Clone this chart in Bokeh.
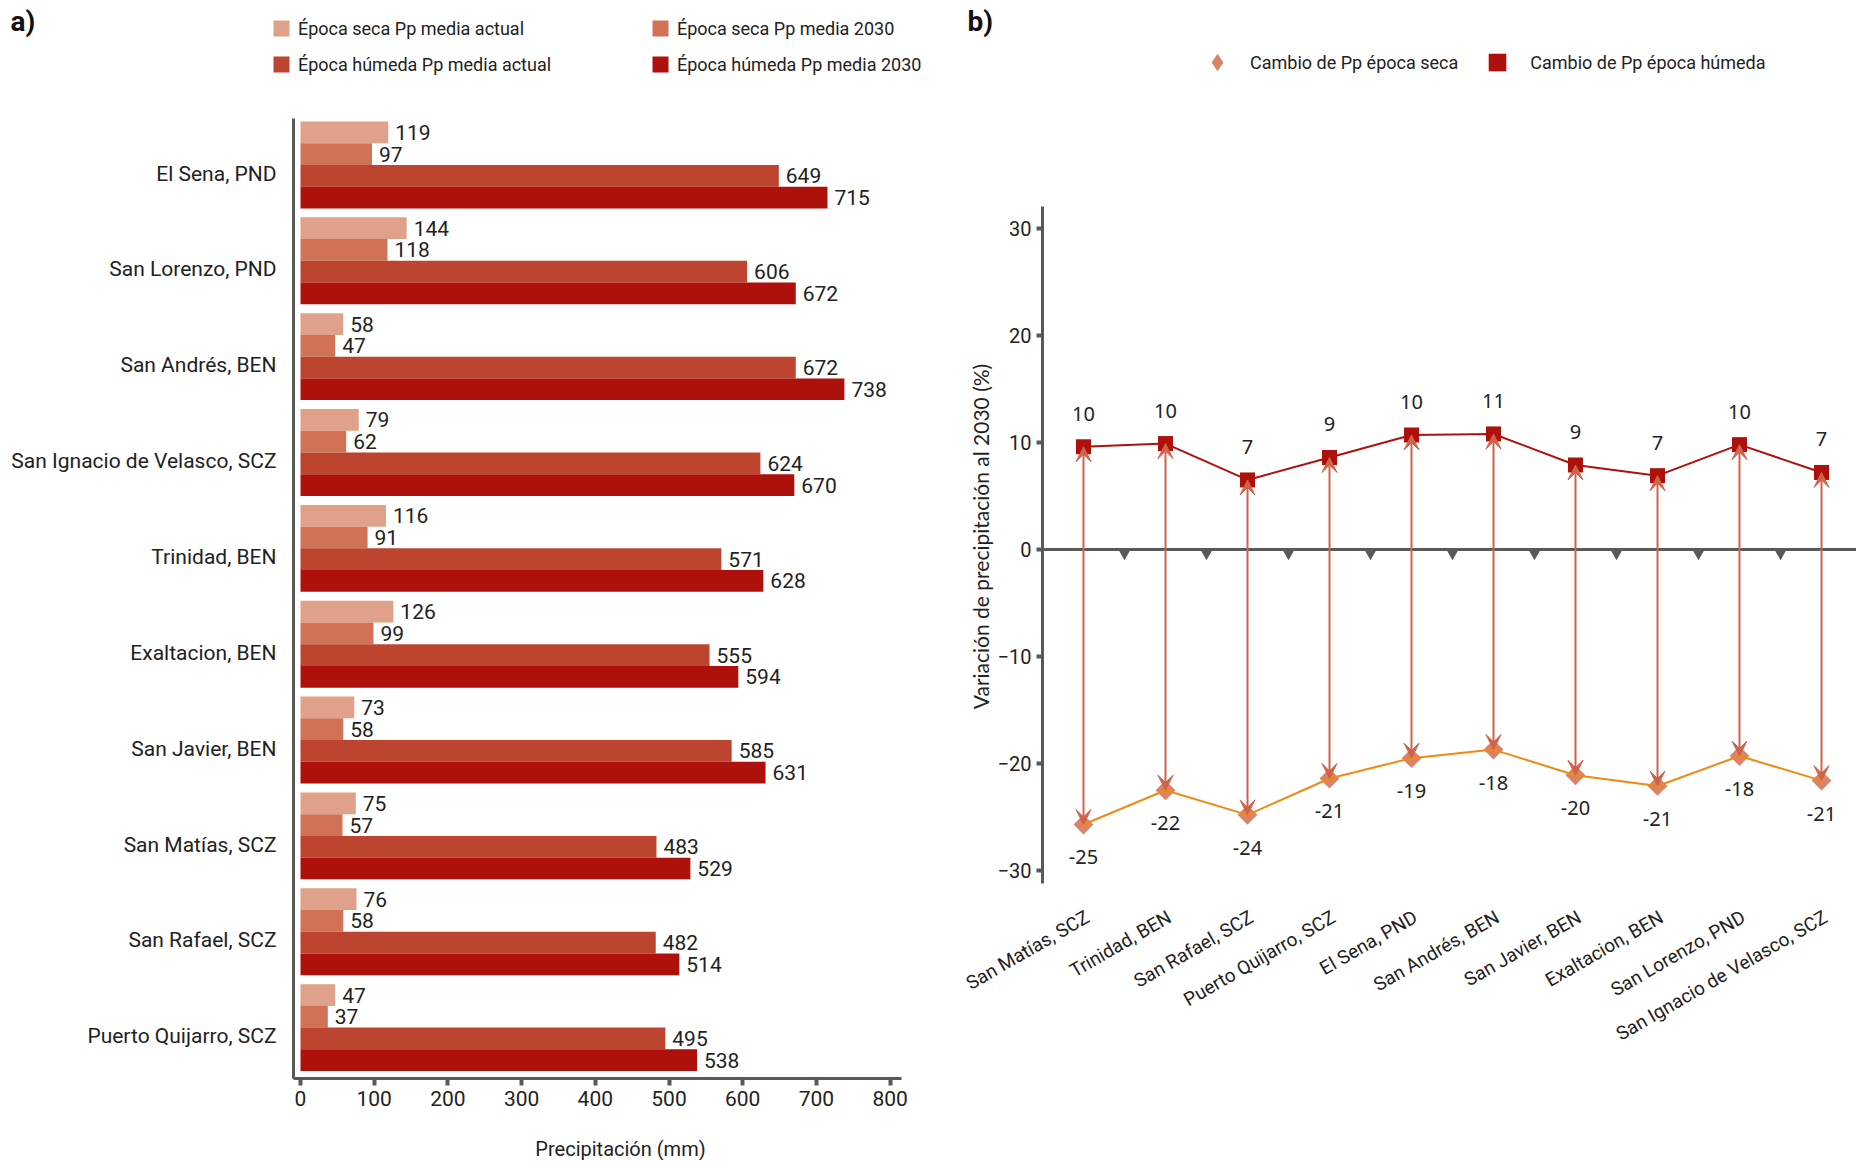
import numpy as np
from bokeh.plotting import figure
from bokeh.models import (ColumnDataSource, Range1d, FixedTicker, Legend, LegendItem,
                          Label, LabelSet, Arrow, VeeHead, LinearAxis)
from bokeh.layouts import row
from bokeh.embed import file_html
from bokeh.resources import INLINE
from bokeh.core.properties import value

# ---------------- Panel a) data ----------------
stations_a = ["El Sena, PND", "San Lorenzo, PND", "San Andrés, BEN",
              "San Ignacio de Velasco, SCZ", "Trinidad, BEN", "Exaltacion, BEN",
              "San Javier, BEN", "San Matías, SCZ", "San Rafael, SCZ",
              "Puerto Quijarro, SCZ"]
seca_actual = [119, 144, 58, 79, 116, 126, 73, 75, 76, 47]
seca_2030 = [97, 118, 47, 62, 91, 99, 58, 57, 58, 37]
humeda_actual = [649, 606, 672, 624, 571, 555, 585, 483, 482, 495]
humeda_2030 = [715, 672, 738, 670, 628, 594, 631, 529, 514, 538]
series_names = ["Época seca Pp media actual", "Época seca Pp media 2030",
                "Época húmeda Pp media actual", "Época húmeda Pp media 2030"]
series_colors = ["#E0A18A", "#D17256", "#BD442E", "#AE110B"]
x_ticks_a = [0, 100, 200, 300, 400, 500, 600, 700, 800]
x_title_a = "Precipitación (mm)"

# ---------------- Panel b) data ----------------
stations_b = ["San Matías, SCZ", "Trinidad, BEN", "San Rafael, SCZ",
              "Puerto Quijarro, SCZ", "El Sena, PND", "San Andrés, BEN",
              "San Javier, BEN", "Exaltacion, BEN", "San Lorenzo, PND",
              "San Ignacio de Velasco, SCZ"]
cambio_humeda = [9.6, 9.9, 6.5, 8.6, 10.7, 10.8, 7.9, 6.9, 9.8, 7.2]
cambio_seca = [-25.7, -22.5, -24.8, -21.4, -19.5, -18.7, -21.1, -22.1, -19.3, -21.6]
etiquetas_humeda = ["10", "10", "7", "9", "10", "11", "9", "7", "10", "7"]
etiquetas_seca = ["-25", "-22", "-24", "-21", "-19", "-18", "-20", "-21", "-18", "-21"]
y_ticks_b = [-30, -20, -10, 0, 10, 20, 30]
legend_b = ["Cambio de Pp época seca", "Cambio de Pp época húmeda"]
y_title_b = "Variación de precipitación al 2030 (%)"

FONT = "Roboto"
AXIS_C = "#595959"
TEXT_C = "#222222"
H = 1160

def bare(p):
    p.grid.visible = False
    p.outline_line_color = None
    p.min_border_left = p.min_border_right = 0
    p.min_border_top = p.min_border_bottom = 0

# =============== Figure a) ===============
WA = 930
n = len(stations_a)
bar_h = 0.2267
offsets = [-1.5 * bar_h, -0.5 * bar_h, 0.5 * bar_h, 1.5 * bar_h]
series_vals = [seca_actual, seca_2030, humeda_actual, humeda_2030]
KX = 0.737          # px per mm
KY = 95.85          # px per category step
X0PX, G0PX = 300, 121   # pixel of x=0 and of the top of the first group
G0 = -2 * bar_h
def ax(px): return (px - X0PX) / KX
def ay(py): return G0 + (py - G0PX) / KY

p1 = figure(width=WA, height=H, x_range=Range1d(ax(0), ax(WA)),
            y_range=Range1d(ay(H), ay(0)), output_backend="svg",
            toolbar_location=None, x_axis_location=None, y_axis_location=None)
bare(p1)

renderers = []
for k, vals in enumerate(series_vals):
    ys = [i + offsets[k] for i in range(n)]
    src = ColumnDataSource(dict(y=ys, right=vals, lab=[str(v) for v in vals]))
    r = p1.hbar(y="y", right="right", left=0, height=bar_h, source=src,
                fill_color=series_colors[k], line_color=None)
    renderers.append(r)
    p1.text(x="right", y="y", text="lab", source=src, x_offset=7,
            text_align="left", text_baseline="middle",
            text_font=value(FONT), text_font_size=value("21px"), text_color=TEXT_C)

YA_TOP, YA_BOT = ay(118), ay(1078)
XA_AX, XA_END = ax(293), ax(901)

lab_ticks = [i + 0.09 for i in range(n)]
yax = LinearAxis(fixed_location=XA_AX, bounds=(YA_TOP, YA_BOT),
                 ticker=FixedTicker(ticks=lab_ticks),
                 major_label_overrides={t: s for t, s in zip(lab_ticks, stations_a)},
                 axis_line_width=3, axis_line_color=AXIS_C,
                 major_tick_line_color=None, minor_tick_line_color=None,
                 major_label_standoff=11, major_label_text_font=FONT,
                 major_label_text_font_size="21px", major_label_text_color=TEXT_C)
p1.add_layout(yax, "left")

xax = LinearAxis(fixed_location=YA_BOT, bounds=(XA_AX, XA_END),
                 ticker=FixedTicker(ticks=x_ticks_a),
                 axis_line_width=3, axis_line_color=AXIS_C,
                 major_tick_out=7, major_tick_in=0, major_tick_line_width=4,
                 major_tick_line_color=AXIS_C, minor_tick_line_color=None,
                 major_label_standoff=5, major_label_text_font=FONT,
                 major_label_text_font_size="21px", major_label_text_color=TEXT_C)
p1.add_layout(xax, "below")

p1.add_layout(Label(x=ax(620), y=ay(1148), text=x_title_a, text_align="center",
                    text_baseline="middle", text_font=FONT, text_font_size="20px",
                    text_color=TEXT_C))

def mk_legend(items, loc):
    return Legend(items=items, location=loc, orientation="vertical",
                  glyph_width=20, glyph_height=20, label_standoff=7,
                  label_text_font=FONT, label_text_font_size="18px",
                  label_text_color=TEXT_C, label_height=22, spacing=14,
                  padding=0, margin=0, border_line_color=None,
                  background_fill_alpha=0)

leg1 = mk_legend([LegendItem(label=series_names[0], renderers=[renderers[0]]),
                  LegendItem(label=series_names[2], renderers=[renderers[2]])],
                 (271, H - 75))
leg2 = mk_legend([LegendItem(label=series_names[1], renderers=[renderers[1]]),
                  LegendItem(label=series_names[3], renderers=[renderers[3]])],
                 (650, H - 75))
p1.add_layout(leg1, "center")
p1.add_layout(leg2, "center")

p1.add_layout(Label(x=ax(10), y=ay(4), text="a)", text_font=FONT,
                    text_font_size="28px", text_font_style="bold",
                    text_baseline="top", text_align="left", text_color="#111111"))

# =============== Figure b) ===============
WB = 926
B0 = WA                 # page x where figure b) starts
m = len(stations_b)
xs = [i + 0.5 for i in range(m)]
KXB, KYB = 82.0, 10.7
XB0PX, YB0PX = 1042, 549    # pixel of x=0 (vertical axis) and of y=0
def bx(px): return (px - XB0PX) / KXB
def by(py): return (YB0PX - py) / KYB
Y_LO, Y_HI = by(883), by(206)

src_b = ColumnDataSource(dict(x=xs, hum=cambio_humeda, dry=cambio_seca,
                              lh=etiquetas_humeda, ld=etiquetas_seca,
                              name=stations_b, base=[Y_LO] * m))

p2 = figure(width=WB, height=H, x_range=Range1d(bx(B0), bx(B0 + WB)),
            y_range=Range1d(by(H), by(0)), output_backend="svg",
            toolbar_location=None, x_axis_location=None, y_axis_location=None)
bare(p2)

zax = LinearAxis(fixed_location=0, bounds=(0, bx(B0 + WB)), ticker=FixedTicker(ticks=[]),
                 axis_line_width=3, axis_line_color=AXIS_C,
                 major_tick_line_color=None, minor_tick_line_color=None,
                 major_label_text_font_size="0px")
p2.add_layout(zax, "below")
bounds = [i + 1 for i in range(m)]
p2.scatter(x=bounds, y=[-0.35] * m, marker="inverted_triangle", size=12,
           fill_color=AXIS_C, line_color=None)

r_dry = p2.scatter(x="x", y="dry", source=src_b, marker="square", angle=np.pi / 4,
                   size=14, fill_color="#D98466", line_color=None)
# legend swatch only (no visible point)
r_dry_leg = p2.scatter(x=[np.nan], y=[np.nan], marker="diamond", fill_color="#D98466",
                       line_color=None)
p2.line(x="x", y="dry", source=src_b, line_color="#EE8A12", line_width=2)
p2.line(x="x", y="hum", source=src_b, line_color="#AE110B", line_width=2)
r_hum = p2.scatter(x="x", y="hum", source=src_b, marker="square", size=15,
                   fill_color="#AE110B", line_color=None)

AR = "#D0624A"
p2.add_layout(Arrow(start=VeeHead(size=15, fill_color=AR, line_color=AR),
                    end=VeeHead(size=15, fill_color=AR, line_color=AR),
                    x_start="x", y_start="hum", x_end="x", y_end="dry",
                    source=src_b, line_color=AR, line_width=2))

p2.text(x="x", y="hum", text="lh", source=src_b, y_offset=-33, text_align="center",
        text_baseline="middle", text_font=value("Noto Sans"),
        text_font_size=value("20px"), text_color=TEXT_C)
p2.text(x="x", y="dry", text="ld", source=src_b, y_offset=33, text_align="center",
        text_baseline="middle", text_font=value("Noto Sans"),
        text_font_size=value("20px"), text_color=TEXT_C)

p2.add_layout(LabelSet(x="x", y="base", text="name", source=src_b, angle=np.pi / 6,
                       x_offset=4, y_offset=-32, text_align="right",
                       text_baseline="middle", text_font=value(FONT),
                       text_font_size=value("19px"), text_color=TEXT_C))

yax_b = LinearAxis(fixed_location=0, bounds=(Y_LO, Y_HI),
                   ticker=FixedTicker(ticks=y_ticks_b),
                   axis_line_width=3, axis_line_color=AXIS_C,
                   major_tick_out=6, major_tick_in=0, major_tick_line_width=4,
                   major_tick_line_color=AXIS_C, minor_tick_line_color=None,
                   major_label_standoff=5, major_label_text_font=FONT,
                   major_label_text_font_size="20px", major_label_text_color=TEXT_C)
p2.add_layout(yax_b, "left")

p2.add_layout(Label(x=bx(980), y=by(536), text=y_title_b, angle=np.pi / 2,
                    text_align="center", text_baseline="middle", text_font="Lato",
                    text_font_size="21px", text_color=TEXT_C))

leg_b = Legend(items=[LegendItem(label=legend_b[0], renderers=[r_dry_leg]),
                      LegendItem(label=legend_b[1], renderers=[r_hum])],
               location=(1195 - B0, H - 84), orientation="horizontal",
               glyph_width=44, glyph_height=44, label_standoff=11,
               label_text_font=FONT, label_text_font_size="18px",
               label_text_color=TEXT_C, label_height=22, spacing=17,
               padding=0, margin=0, border_line_color=None, background_fill_alpha=0)
p2.add_layout(leg_b, "center")

p2.add_layout(Label(x=bx(967), y=by(4), text="b)", text_font=FONT,
                    text_font_size="28px", text_font_style="bold",
                    text_baseline="top", text_align="left", text_color="#111111"))

layout = row(p1, p2)
open("out.html", "w").write(file_html(layout, INLINE))
